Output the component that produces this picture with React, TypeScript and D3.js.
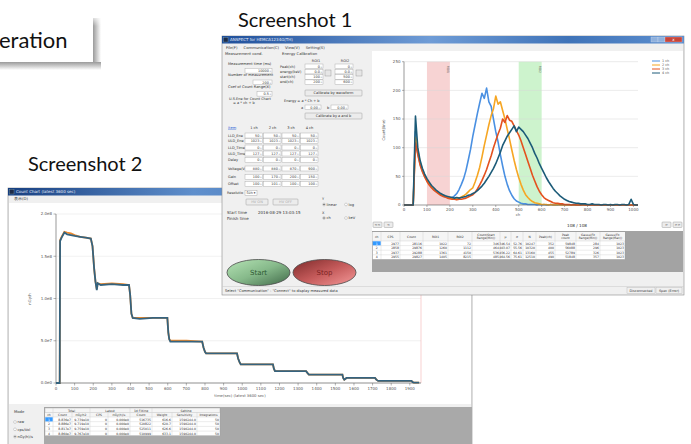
import * as d3 from 'd3';

const UI = '"DejaVu Sans", "Liberation Sans", sans-serif';
const SLIDE = 'Lato, "Open Sans", sans-serif';

// ---------- Screenshot 1 : spectrum, counts per 10-ch bin ----------
const specBinWidth = 10;
const specNames = ['1 ch', '2 ch', '3 ch', '4 ch'];
const specColors = ['#4a90e2', '#f6a623', '#e4511e', '#1c5b78'];
const spec1 = [
  0, 0, 0, 0, 0, 128, 90, 72, 60, 50,
  43, 37, 31, 27, 24, 21, 18, 16, 14, 13,
  12, 13, 16, 20, 27, 36, 46, 60, 78, 97,
  120, 140, 160, 178, 195, 186, 204, 180, 172, 150,
  128, 110, 88, 68, 50, 36, 25, 17, 11, 7,
  5, 3, 2, 2, 1, 1, 1, 1, 0, 1,
  0, 1, 0, 0, 1, 0, 0, 0, 1, 0,
  0, 0, 0, 0, 0, 0, 0, 0, 0, 0,
  0, 0, 0, 0, 0, 0, 0, 0, 0, 0,
  0, 0, 0, 0, 0, 0, 0, 0, 0, 0,
  0, 0, 0,
];
const spec2 = [
  0, 0, 0, 0, 0, 118, 96, 75, 62, 52,
  44, 38, 32, 28, 24, 21, 19, 17, 15, 13,
  12, 11, 10, 11, 12, 14, 16, 19, 23, 27,
  30, 40, 52, 66, 84, 104, 122, 140, 156, 168,
  190, 176, 180, 165, 150, 132, 115, 96, 78, 62,
  48, 36, 26, 18, 13, 9, 6, 4, 3, 2,
  1, 1, 1, 0, 1, 0, 0, 1, 0, 0,
  0, 0, 0, 0, 0, 0, 0, 0, 0, 0,
  0, 0, 0, 0, 0, 0, 0, 0, 0, 0,
  0, 0, 0, 0, 0, 0, 0, 0, 0, 0,
  0, 0, 0,
];
const spec3 = [
  0, 0, 0, 0, 0, 108, 88, 70, 58, 49,
  41, 35, 30, 26, 23, 20, 17, 15, 14, 12,
  11, 10, 10, 9, 10, 10, 11, 12, 14, 16,
  18, 22, 28, 35, 43, 52, 62, 74, 86, 100,
  112, 124, 134, 150, 144, 156, 148, 146, 138, 130,
  122, 112, 100, 88, 76, 64, 52, 42, 32, 24,
  18, 13, 10, 8, 6, 4, 3, 3, 2, 2,
  1, 1, 1, 0, 1, 0, 0, 0, 1, 0,
  0, 0, 0, 0, 0, 0, 0, 0, 0, 0,
  0, 0, 0, 0, 0, 0, 0, 0, 0, 0,
  0, 0, 0,
];
const spec4 = [
  0, 0, 0, 0, 0, 155, 100, 78, 64, 54,
  46, 40, 34, 30, 26, 23, 20, 18, 16, 15,
  14, 13, 12, 13, 12, 13, 14, 15, 17, 18,
  20, 22, 25, 29, 33, 38, 44, 50, 57, 64,
  72, 82, 92, 104, 112, 120, 126, 132, 138, 128,
  136, 132, 128, 122, 116, 108, 100, 90, 82, 72,
  64, 56, 48, 41, 35, 29, 24, 20, 16, 13,
  10, 8, 6, 5, 4, 3, 3, 2, 2, 2,
  1, 1, 2, 1, 1, 1, 0, 1, 1, 0,
  1, 0, 1, 1, 0, 1, 1, 0, 1, 10,
  1, 0, 0,
];
const specSeries = [spec1, spec2, spec3, spec4];
const roiNames = ['ROI1', 'ROI2'];
const roiStart = [100, 500];
const roiEnd = [200, 600];
const roiFill = ['#f7d3d3', '#cdf3cd'];

const specTableHead = ['ch', 'CPS', 'Count', 'ROI1', 'ROI2', 'Count(Start\nRange(Min))', 'μ', 'σ', 'N',
  'Peak(ch)', 'Peak\ncount', 'Gauss(Fit\nRange(Min))', 'Gauss(Fit\nRange(Max))'];
const specTableRows = [
  ['1', '2977', '28116', '1022', '72', '346', '346.54', '52.76', '10247', '352', '59848', '284', '1023'],
  ['2', '2858', '29876', '1260', '1112', '464', '403.07', '55.56', '10320', '400', '56088', '296', '1023'],
  ['3', '2937', '29288', '1361', '4150', '536', '456.22', '64.61', '13160', '455', '52789', '326', '1023'],
  ['4', '2955', '29827', '1405', '8215', '485', '464.56', '75.61', '12510', '490', '51848', '357', '1023'],
];

// left panel of screenshot 1
const measLabels = ['Measurement time (ms)', 'Number of measurement', 'Coef of Count Range(X)'];
const measValues = ['10000', '200', '0.5'];
const roiFieldLabels = ['Peak(ch)', 'energy(keV)', 'start(ch)', 'end(ch)'];
const roi1Values = ['0', '0.0', '100', '200'];
const roi2Values = ['0', '0.0', '500', '600'];
const chParamLabels = ['LLD_Ene', 'ULD_Ene', 'LLD_Time', 'ULD_Time', 'Delay', 'Voltage(V)', 'Gain', 'Offset'];
const chParamValues = [
  ['50', '50', '50', '50'],
  ['1023', '1023', '1023', '1023'],
  ['0', '0', '0', '0'],
  ['127', '127', '127', '127'],
  ['0', '0', '0', '0'],
  ['880', '880', '870', '900'],
  ['100', '170', '200', '150'],
  ['100', '101', '100', '100'],
];

// ---------- Screenshot 2 : count chart (step curve) ----------
const countTime = [0, 20, 22, 30, 45, 60, 80, 100, 130, 160, 187, 196, 205, 212, 219, 224, 240, 300, 360, 392,
  398, 405, 412, 450, 520, 598, 603, 608, 614, 700, 785, 792, 800, 806, 900, 972, 978, 985, 992, 1100,
  1165, 1170, 1176, 1250, 1343, 1350, 1358, 1450, 1538, 1542, 1548, 1560, 1650, 1713, 1720, 1730, 1800, 1909, 1915, 1922,
  1950];
const countCh4 = [0, 0, 1.68e8, 1.72e8, 1.78e8, 1.76e8, 1.75e8, 1.74e8, 1.73e8, 1.72e8, 1.71e8, 1.62e8, 1.35e8, 1.2e8, 1.1e8, 1.18e8, 1.16e8, 1.17e8, 1.16e8, 1.16e8,
  1.05e8, 0.82e8, 0.77e8, 0.76e8, 0.77e8, 0.77e8, 0.6e8, 0.52e8, 0.49e8, 0.49e8, 0.49e8, 0.42e8, 0.37e8, 0.35e8, 0.35e8, 0.35e8, 0.29e8, 0.25e8, 0.22e8, 0.22e8,
  0.22e8, 0.17e8, 0.14e8, 0.14e8, 0.14e8, 0.12e8, 0.1e8, 0.1e8, 0.1e8, 0.06e8, 0.04e8, 0.06e8, 0.06e8, 0.06e8, 0.04e8, 0.025e8, 0.025e8, 0.025e8, 0.01e8, 0.005e8,
  0.005e8];
const countCh2 = [0, 0, 1.69e8, 1.73e8, 1.79e8, 1.78e8, 1.77e8, 1.75e8, 1.73e8, 1.72e8, 1.71e8, 1.62e8, 1.35e8, 1.2e8, 1.11e8, 1.18e8, 1.17e8, 1.18e8, 1.17e8, 1.16e8,
  1.05e8, 0.82e8, 0.77e8, 0.77e8, 0.77e8, 0.77e8, 0.6e8, 0.52e8, 0.5e8, 0.5e8, 0.49e8, 0.42e8, 0.37e8, 0.35e8, 0.35e8, 0.35e8, 0.29e8, 0.25e8, 0.22e8, 0.22e8,
  0.22e8, 0.17e8, 0.14e8, 0.14e8, 0.14e8, 0.12e8, 0.1e8, 0.1e8, 0.1e8, 0.06e8, 0.04e8, 0.06e8, 0.06e8, 0.06e8, 0.04e8, 0.025e8, 0.025e8, 0.025e8, 0.01e8, 0.005e8,
  0.005e8];

const countTableGroups = ['Total', 'Latest', '1d Filting', 'Setting'];
const countTableCols = ['ch', 'Count', 'nGy/h2', 'CPS', 'nGy(h)/s', 'Count', 'Weight', 'Sensitivity', 'Integrations'];
const countTableRows = [
  ['1', '8.836e7', '9.739e10', '0', '0.000e0', '516735', '616.6', '1590244.0', '50'],
  ['2', '8.886e7', '9.719e10', '0', '0.000e0', '520822', '620.7', '1590244.0', '50'],
  ['3', '8.817e7', '9.759e10', '0', '0.000e0', '525011', '626.6', '1590244.0', '50'],
  ['4', '8.860e7', '9.767e10', '0', '0.000e0', '510999', '633.1', '1590244.0', '50'],
];
const modeLabels = ['raw', 'cps/Vol', 'nGy(h)/s'];

// ---------- small UI pieces ----------
function Field({ x, y, w, v, h = 4.6 }: { x: number; y: number; w: number; v: string; h?: number }) {
  return (
    <g>
      <rect x={x} y={y} width={w} height={h} fill="#fff" stroke="#a0a0a0" strokeWidth={0.4} />
      <text x={x + w - 3.2} y={y + h - 1.1} fontSize={3.4} textAnchor="end" fill="#333">{v}</text>
      <text x={x + w - 0.6} y={y + h - 1.1} fontSize={2.6} textAnchor="end" fill="#777">÷</text>
    </g>
  );
}

function Btn({ x, y, w, h, label, dim = false }: { x: number; y: number; w: number; h: number; label: string; dim?: boolean }) {
  return (
    <g>
      <rect x={x} y={y} width={w} height={h} rx={0.8} fill="#ececec" stroke="#8c8c8c" strokeWidth={0.4} />
      <text x={x + w / 2} y={y + h / 2 + 1.2} fontSize={3.5} textAnchor="middle" fill={dim ? '#aaa' : '#333'}>{label}</text>
    </g>
  );
}

function Radio({ x, y, label, on }: { x: number; y: number; label: string; on: boolean }) {
  return (
    <g>
      <circle cx={x} cy={y} r={1.4} fill="#fff" stroke="#888" strokeWidth={0.35} />
      {on && <circle cx={x} cy={y} r={0.7} fill="#333" />}
      <text x={x + 2.5} y={y + 1.2} fontSize={3.6} fill="#333">{label}</text>
    </g>
  );
}

function Grid({ x0, y0, edges, headH, rowH, head, rows }:
  { x0: number; y0: number; edges: number[]; headH: number; rowH: number; head: string[]; rows: string[][] }) {
  const x1 = edges[edges.length - 1];
  const yEnd = y0 + headH + rowH * rows.length;
  return (
    <g fontFamily={UI}>
      <rect x={x0} y={y0} width={x1 - x0} height={yEnd - y0} fill="#fff" stroke="#999" strokeWidth={0.4} />
      <rect x={x0} y={y0} width={x1 - x0} height={headH} fill="#f5f5f5" />
      {edges.slice(1, -1).map((e, i) => (
        <line key={i} x1={e} x2={e} y1={y0} y2={yEnd} stroke="#c4c4c4" strokeWidth={0.35} />
      ))}
      {rows.map((_, i) => (
        <line key={i} x1={x0} x2={x1} y1={y0 + headH + i * rowH} y2={y0 + headH + i * rowH} stroke="#c4c4c4" strokeWidth={0.35} />
      ))}
      {head.map((h, i) => {
        const lines = h.split('\n');
        const cxm = (edges[i] + edges[i + 1]) / 2;
        return (
          <text key={i} x={cxm} y={y0 + headH / 2 + 1.2 - (lines.length - 1) * 1.5} fontSize={3} textAnchor="middle" fill="#333">
            {lines.map((l, j) => <tspan key={j} x={cxm} dy={j === 0 ? 0 : 3.1}>{l}</tspan>)}
          </text>
        );
      })}
      {rows.map((r, ri) => (
        <g key={ri}>
          {ri === 0 && <rect x={edges[0] + 0.3} y={y0 + headH + 0.3} width={edges[1] - edges[0] - 0.6} height={rowH - 0.6} fill="#3399ff" />}
          {r.map((c, ci) => (
            <text key={ci} x={ci === 0 ? (edges[0] + edges[1]) / 2 : edges[ci + 1] - 1}
              y={y0 + headH + ri * rowH + rowH - 1.1} fontSize={3.1}
              textAnchor={ci === 0 ? 'middle' : 'end'} fill={ci === 0 && ri === 0 ? '#fff' : '#333'}>{c}</text>
          ))}
        </g>
      ))}
    </g>
  );
}

function TitleBar({ x, y, w, title, gid }: { x: number; y: number; w: number; title: string; gid: string }) {
  return (
    <g>
      <rect x={x} y={y} width={w} height={7.5} fill={`url(#${gid})`} />
      <rect x={x + 1.5} y={y + 1.5} width={4.5} height={4.5} fill="#1d2b48" stroke="#9bb" strokeWidth={0.3} />
      <text x={x + 8} y={y + 5.3} fontSize={4} fill="#e8eefa">{title}</text>
    </g>
  );
}

export default function App() {
  // spectrum scales
  const sx = d3.scaleLinear().domain([0, 1020]).range([404, 638]);
  const sy = d3.scaleLinear().domain([0, 250]).range([205, 61.7]);
  const specLine = d3.line<number>().x((_, i) => sx(i * specBinWidth)).y(d => sy(d));

  // count chart scales
  const cx = d3.scaleLinear().domain([0, 1960]).range([56, 421]);
  const cy = d3.scaleLinear().domain([0, 2e8]).range([383, 214]);
  const countLine = d3.line<number>().x((_, i) => cx(countTime[i])).y(d => cy(d));
  const fmtE = (v: number) => d3.format('.1e')(v).replace('+', '');

  const specEdges = [372.5, 381, 400, 423, 448, 472, 500, 511, 523, 536, 555, 576, 600, 625];
  const countEdges = [45, 53, 72, 90, 108, 130, 152, 172, 197, 220];
  const chParamY = [133, 138.5, 145, 151, 157.5, 166, 174.5, 181.5];
  const chColX = [245, 263.5, 282, 300.5];

  return (
    <svg width={691} height={444} viewBox="0 0 691 444"
      style={{ position: 'absolute', left: 0, top: 0, background: '#fff' }} fontFamily={UI}>
      <defs>
        <linearGradient id="shR" x1="0" x2="1" y1="0" y2="0">
          <stop offset="0%" stopColor="#9a9a9a" />
          <stop offset="100%" stopColor="#ffffff" />
        </linearGradient>
        <linearGradient id="shB" x1="0" x2="0" y1="0" y2="1">
          <stop offset="0%" stopColor="#9a9a9a" />
          <stop offset="100%" stopColor="#ffffff" />
        </linearGradient>
        <linearGradient id="shFade" x1="0" x2="0" y1="0" y2="1">
          <stop offset="0%" stopColor="#fff" stopOpacity={1} />
          <stop offset="100%" stopColor="#fff" stopOpacity={0} />
        </linearGradient>
        <linearGradient id="tb1" x1="0" x2="1" y1="0" y2="0">
          <stop offset="0%" stopColor="#1f4f9a" />
          <stop offset="45%" stopColor="#6f9cd6" />
          <stop offset="75%" stopColor="#3f73b8" />
          <stop offset="100%" stopColor="#5d8fcf" />
        </linearGradient>
        <linearGradient id="tb2" x1="0" x2="1" y1="0" y2="0">
          <stop offset="0%" stopColor="#173f80" />
          <stop offset="40%" stopColor="#5f8fcc" />
          <stop offset="100%" stopColor="#3a6cb2" />
        </linearGradient>
        <linearGradient id="startG" x1="0" x2="1" y1="0" y2="1">
          <stop offset="0%" stopColor="#b5e3b5" />
          <stop offset="50%" stopColor="#86b98a" />
          <stop offset="100%" stopColor="#3f6848" />
        </linearGradient>
        <linearGradient id="stopG" x1="0" x2="1" y1="0" y2="1">
          <stop offset="0%" stopColor="#7d2a2a" />
          <stop offset="50%" stopColor="#c45a5a" />
          <stop offset="100%" stopColor="#f59a9a" />
        </linearGradient>
      </defs>

      {/* slide box with shadow */}
      <rect x={93} y={18} width={8} height={52} fill="url(#shR)" />
      <rect x={0} y={62} width={101} height={8} fill="url(#shB)" />
      <rect x={93} y={14} width={9} height={12} fill="url(#shFade)" />
      <rect x={0} y={0} width={93} height={62} fill="#fff" />
      <text x={-1} y={48} fontSize={22} fontFamily={SLIDE} fill="#111">eration</text>

      <text x={238} y={27} fontSize={20} fontFamily={SLIDE} fill="#111">Screenshot 1</text>
      <text x={28} y={171} fontSize={20} fontFamily={SLIDE} fill="#111">Screenshot 2</text>

      {/* ================= Screenshot 2 window ================= */}
      <g>
        <rect x={8} y={188} width={464} height={258} fill="#f0f0f0" stroke="#8a8a8a" strokeWidth={0.6} />
        <TitleBar x={8} y={188} w={464} title="Count Chart (latest 3600 sec)" gid="tb2" />
        <text x={14} y={200} fontSize={3.8} fill="#333">表示(D)</text>
        <rect x={9} y={203} width={462} height={201} fill="#fff" />

        {/* grid + axes */}
        {cy.ticks(4).map(t => (
          <g key={t}>
            <line x1={56} x2={421} y1={cy(t)} y2={cy(t)} stroke="#e2e2e2" strokeWidth={0.5} />
            <line x1={53.5} x2={56} y1={cy(t)} y2={cy(t)} stroke="#666" strokeWidth={0.5} />
            <text x={52} y={cy(t) + 1.3} fontSize={4} textAnchor="end" fill="#555">{fmtE(t)}</text>
          </g>
        ))}
        <line x1={421} x2={421} y1={214} y2={383} stroke="#f3b3b3" strokeWidth={0.6} />
        {cx.ticks(20).filter(t => t <= 1900).map(t => (
          <g key={t}>
            <line x1={cx(t)} x2={cx(t)} y1={383} y2={385.5} stroke="#666" strokeWidth={0.5} />
            <text x={cx(t)} y={390} fontSize={4} textAnchor="middle" fill="#555">{t}</text>
          </g>
        ))}
        <line x1={56} x2={56} y1={214} y2={383} stroke="#555" strokeWidth={0.6} />
        <line x1={56} x2={421} y1={383} y2={383} stroke="#555" strokeWidth={0.6} />
        <text x={240} y={397} fontSize={3.8} textAnchor="middle" fill="#555">time(sec) (latest 3600 sec)</text>
        <text transform="translate(31,299) rotate(-90)" fontSize={3.8} textAnchor="middle" fill="#555">nGy/h</text>

        <path d={countLine(countCh2) ?? ''} fill="none" stroke="#ef8a2c" strokeWidth={1.8} />
        <path d={countLine(countCh4) ?? ''} fill="none" stroke="#35637f" strokeWidth={1.8} />

        {/* bottom panel */}
        <text x={14} y={413} fontSize={3.8} fill="#333">Mode</text>
        {modeLabels.map((m, i) => (
          <Radio key={m} x={15} y={422 + i * 7.3} label={m} on={i === 2} />
        ))}
        <rect x={44} y={407} width={428} height={38} fill="#a9a9a9" />
        {/* group header row of count table */}
        <rect x={45} y={408} width={175} height={4.5} fill="#f5f5f5" stroke="#999" strokeWidth={0.35} />
        {countTableGroups.map((g, i) => {
          const spans = [[1, 3], [3, 5], [5, 6], [6, 9]][i];
          return (
            <g key={g}>
              <line x1={countEdges[spans[0]]} x2={countEdges[spans[0]]} y1={408} y2={412.5} stroke="#c4c4c4" strokeWidth={0.35} />
              <text x={(countEdges[spans[0]] + countEdges[spans[1]]) / 2} y={411.6} fontSize={3.1} textAnchor="middle" fill="#333">{g}</text>
            </g>
          );
        })}
        <Grid x0={45} y0={412.5} edges={countEdges} headH={4.5} rowH={4.7} head={countTableCols} rows={countTableRows} />
      </g>

      {/* ================= Screenshot 1 window ================= */}
      <g>
        <rect x={222} y={36} width={462} height={259} fill="#f0f0f0" stroke="#8a8a8a" strokeWidth={0.6} />
        <TitleBar x={222} y={36} w={462} title="ANSPECT for HEMCA1234G(TH)" gid="tb1" />
        <rect x={651} y={37} width={7} height={5} fill="#8fb0dc" stroke="#dfe8f5" strokeWidth={0.3} />
        <rect x={658} y={37} width={7} height={5} fill="#8fb0dc" stroke="#dfe8f5" strokeWidth={0.3} />
        <rect x={665} y={37} width={17} height={5} fill="#c8453a" stroke="#f3d0cc" strokeWidth={0.3} />
        <text x={673.5} y={41.3} fontSize={4} textAnchor="middle" fill="#fff">x</text>
        <text x={226} y={49} fontSize={3.8} fill="#333" xmlSpace="preserve">File(F)     Communication(C)     View(V)     Setting(S)</text>

        {/* left panel */}
        <text x={225} y={55} fontSize={3.8} fill="#333">Measurement cond.</text>
        <text x={282} y={55} fontSize={3.8} fill="#333">Energy Calibration</text>
        {measLabels.map((l, i) => (
          <g key={l}>
            <text x={228} y={64.5 + i * 11.5} fontSize={3.6} fill="#333">{l}</text>
            <Field x={[245, 253, 257][i]} y={68.5 + i * 11.5} w={[27, 19, 15][i]} v={measValues[i]} />
          </g>
        ))}
        <text x={229} y={99.5} fontSize={3.5} fill="#333">U.S.Ene for Count Chart</text>
        <text x={233} y={103.5} fontSize={3.5} fill="#333">= a * ch + b</text>

        <text x={316} y={61.5} fontSize={3.5} textAnchor="middle" fill="#333">ROI1</text>
        <text x={345} y={61.5} fontSize={3.5} textAnchor="middle" fill="#333">ROI2</text>
        {roiFieldLabels.map((l, i) => (
          <g key={l}>
            <text x={280} y={67.5 + i * 5.3} fontSize={3.5} fill="#333">{l}</text>
            <Field x={305} y={64 + i * 5.3} w={18} v={roi1Values[i]} />
            <Field x={335} y={64 + i * 5.3} w={18} v={roi2Values[i]} />
          </g>
        ))}
        <rect x={325} y={70} width={6} height={6} fill="#e6e6e6" stroke="#8c8c8c" strokeWidth={0.4} />
        <rect x={356} y={70} width={6} height={6} fill="#e6e6e6" stroke="#8c8c8c" strokeWidth={0.4} />
        <Btn x={305} y={90} w={57} h={6} label="Calibrate by waveform" />
        <text x={284} y={101.5} fontSize={3.5} fill="#333">Energy = a * Ch + b</text>
        <text x={301} y={109} fontSize={3.6} fill="#333">a</text>
        <Field x={305} y={105} w={16} v="0.00" />
        <text x={327} y={109} fontSize={3.6} fill="#333">b</text>
        <Field x={331} y={105} w={17} v="0.00" />
        <Btn x={305} y={113} w={57} h={6} label="Calibrate by a and b" />

        <text x={228} y={128.5} fontSize={3.6} fill="#2a62d6" textDecoration="underline">Item</text>
        {specNames.map((n, i) => (
          <text key={n} x={chColX[i] + 9} y={128.5} fontSize={3.6} textAnchor="middle" fill="#333">{n}</text>
        ))}
        {chParamLabels.map((l, r) => (
          <g key={l}>
            <text x={228} y={chParamY[r] + 3.6} fontSize={3.5} fill="#333">{l}</text>
            {chParamValues[r].map((v, c) => (
              <Field key={c} x={chColX[c]} y={chParamY[r]} w={17.5} v={v} h={5} />
            ))}
          </g>
        ))}
        <text x={227} y={194} fontSize={3.5} fill="#333">Resolutio</text>
        <rect x={245} y={190.5} width={12} height={5} fill="#fff" stroke="#999" strokeWidth={0.4} />
        <text x={246.5} y={194.3} fontSize={3.3} fill="#333">50h ▾</text>
        <Btn x={246} y={199} w={22} h={6} label="HV ON" dim />
        <Btn x={273} y={199} w={25} h={6} label="HV OFF" dim />
        <text x={322} y={200} fontSize={3.5} fill="#333">Y</text>
        <Radio x={324} y={204.5} label="linear" on />
        <Radio x={346} y={204.5} label="log" on={false} />
        <text x={322} y={213.5} fontSize={3.5} fill="#333">X</text>
        <Radio x={324} y={218} label="ch" on />
        <Radio x={346} y={218} label="keV" on={false} />
        <text x={227} y={214} fontSize={4} fill="#333">Start time</text>
        <text x={258} y={214} fontSize={4} fill="#333">2016-08-29 13:03:15</text>
        <text x={227} y={220} fontSize={4} fill="#333">Finish time</text>

        <ellipse cx={258.5} cy={272.5} rx={31.5} ry={13} fill="url(#startG)" stroke="#4a4a4a" strokeWidth={0.8} />
        <text x={258.5} y={275} fontSize={7} textAnchor="middle" fill="#2f5a33">Start</text>
        <ellipse cx={324.5} cy={272.5} rx={31.5} ry={13} fill="url(#stopG)" stroke="#4a4a4a" strokeWidth={0.8} />
        <text x={324.5} y={275} fontSize={7} textAnchor="middle" fill="#7c2424">Stop</text>

        {/* spectrum chart */}
        <rect x={372} y={51} width={311} height={180} fill="#fff" />
        {roiNames.map((r, i) => (
          <g key={r}>
            <rect x={sx(roiStart[i])} y={sy(250)} width={sx(roiEnd[i]) - sx(roiStart[i])} height={sy(0) - sy(250)} fill={roiFill[i]} />
            <text transform={`translate(${sx(roiEnd[i]) - 3},${sy(250) + 4}) rotate(90)`} fontSize={3} fill="#555">{r}</text>
          </g>
        ))}
        {sy.ticks(5).map(t => (
          <g key={t}>
            {t > 0 && <line x1={404} x2={638} y1={sy(t)} y2={sy(t)} stroke="#d6d6d6" strokeWidth={0.5} />}
            <line x1={402} x2={404} y1={sy(t)} y2={sy(t)} stroke="#666" strokeWidth={0.5} />
            <text x={400.5} y={sy(t) + 1.3} fontSize={4} textAnchor="end" fill="#555">{t}</text>
          </g>
        ))}
        {sx.ticks(10).map(t => (
          <g key={t}>
            <line x1={sx(t)} x2={sx(t)} y1={205} y2={207} stroke="#666" strokeWidth={0.5} />
            <text x={sx(t)} y={211} fontSize={4} textAnchor="middle" fill="#555">{t}</text>
          </g>
        ))}
        <text x={518} y={216} fontSize={3.8} textAnchor="middle" fill="#555">ch</text>
        <text transform="translate(385,130) rotate(-90)" fontSize={3.8} textAnchor="middle" fill="#555">Count(line)</text>
        {specSeries.map((s, i) => (
          <path key={i} d={specLine(s) ?? ''} fill="none" stroke={specColors[i]} strokeWidth={1.6} strokeLinejoin="round" />
        ))}
        <line x1={404} x2={404} y1={61.7} y2={205} stroke="#555" strokeWidth={0.6} />
        <line x1={404} x2={638} y1={205} y2={205} stroke="#555" strokeWidth={0.6} />
        {specNames.map((n, i) => (
          <g key={n}>
            <line x1={652} x2={660} y1={61 + i * 4} y2={61 + i * 4} stroke={specColors[i]} strokeWidth={1} />
            <text x={662} y={62.3 + i * 4} fontSize={3.4} fill="#555">{n}</text>
          </g>
        ))}

        {/* navigation */}
        <Btn x={373} y={222} w={9} h={5.5} label="<<" />
        <Btn x={384} y={222} w={9} h={5.5} label="<" />
        <text x={577} y={227} fontSize={4.2} textAnchor="middle" fill="#333">108 / 108</text>
        <Btn x={662} y={222} w={9} h={5.5} label=">" />
        <Btn x={673} y={222} w={9} h={5.5} label=">>" />

        {/* result table */}
        <rect x={372} y={231} width={311} height={41} fill="#a3a3a3" />
        <Grid x0={372.5} y0={232} edges={specEdges} headH={9} rowH={4.6} head={specTableHead} rows={specTableRows} />

        {/* status bar */}
        <line x1={222} x2={684} y1={286.5} y2={286.5} stroke="#c8c8c8" strokeWidth={0.5} />
        <text x={225} y={292} fontSize={3.6} fill="#333">Select "Communication" - "Connect" to display measured data</text>
        <rect x={627} y={287.5} width={28} height={6} fill="#f0f0f0" stroke="#b0b0b0" strokeWidth={0.4} />
        <text x={641} y={291.8} fontSize={3.4} textAnchor="middle" fill="#333">Disconnected</text>
        <rect x={656} y={287.5} width={26} height={6} fill="#f0f0f0" stroke="#b0b0b0" strokeWidth={0.4} />
        <text x={669} y={291.8} fontSize={3.4} textAnchor="middle" fill="#333">Spec (Error)</text>
      </g>
    </svg>
  );
}
